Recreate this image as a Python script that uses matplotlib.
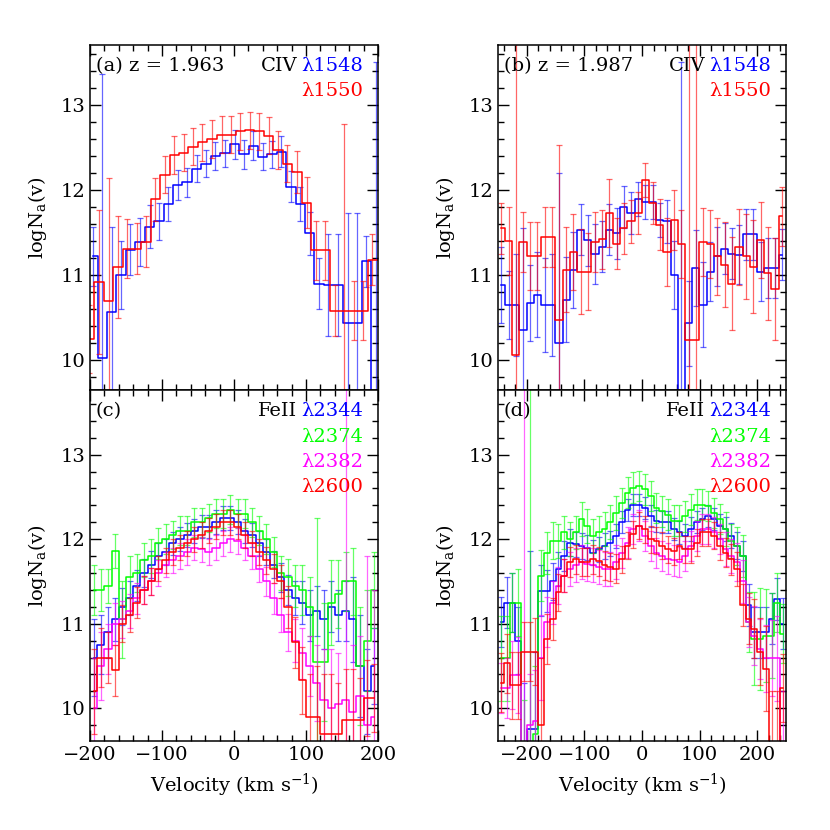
import matplotlib
matplotlib.use("Agg")
import matplotlib.pyplot as plt
from matplotlib.ticker import MultipleLocator

plt.rcParams['font.family'] = 'DejaVu Serif'
plt.rcParams['mathtext.fontset'] = 'dejavuserif'

BLUE, RED, GREEN, MAG = "#0000ff", "#ff0000", "#00ff00", "#ff00ff"

# ---- panel (a): CIV z = 1.963 ----
va_blue = [-196, -183, -170, -157, -144, -130, -117, -104, -91, -78, -65, -52, -39, -26, -13,
           1, 14, 27, 40, 53, 66, 79, 92, 105, 118, 131, 144, 158, 171, 184, 197]
na_blue = [11.22, 10.02, 10.56, 11.00, 11.30, 11.39, 11.57, 11.63, 11.84, 12.06, 12.09, 12.25, 12.31, 12.40, 12.43,
           12.54, 12.42, 12.52, 12.39, 12.42, 12.45, 12.04, 11.84, 11.49, 10.90, 10.88, 10.88, 10.43, 10.43, 11.16, 9.0]
ea_blue = [0.35, 3.35, 1.0, 0.4, 0.3, 0.28, 0.25, 0.22, 0.2, 0.18, 0.17, 0.16, 0.16, 0.16, 0.16,
           0.17, 0.17, 0.17, 0.16, 0.16, 0.18, 0.18, 0.2, 0.25, 0.3, 0.6, 0.6, 1.3, 1.3, 0.3, 4.5]

va_red = [-201, -187, -174, -161, -148, -135, -122, -109, -96, -83, -70, -57, -44, -30, -17, -4,
          9, 22, 35, 48, 61, 74, 88, 101, 114, 127, 140, 153, 166, 179, 192, 205]
na_red = [10.25, 10.92, 10.69, 11.10, 11.31, 11.31, 11.39, 11.89, 12.18, 12.41, 12.44, 12.51, 12.56, 12.60, 12.65, 12.65,
          12.69, 12.70, 12.69, 12.64, 12.47, 12.31, 12.21, 11.85, 11.29, 11.29, 10.58, 10.58, 10.58, 10.58, 11.18, 11.18]
ea_red = [0.4, 0.85, 1.45, 0.6, 0.35, 0.3, 0.3, 0.25, 0.22, 0.22, 0.22, 0.22, 0.22, 0.22, 0.22, 0.22,
          0.22, 0.22, 0.22, 0.22, 0.22, 0.22, 0.25, 0.3, 0.35, 0.35, 0.3, 2.2, 0.35, 0.35, 0.3, 0.3]

# ---- panel (b): CIV z = 1.987 ----
vb = [-244, -231.5, -219, -206.5, -194, -181.5, -169, -156.5, -144, -131.5, -119, -106.5, -94, -81.5, -69,
      -56.5, -44, -31.5, -19, -6.5, 6, 18.5, 31, 43.5, 56, 68.5, 81, 93.5, 106, 118.5, 131, 143.5, 156,
      168.5, 181, 193.5, 206, 218.5, 231, 243.5]
nb_blue = [10.88, 10.65, 10.65, 10.35, 10.67, 10.77, 10.65, 10.65, 10.20, 10.71, 11.06, 11.53, 11.41, 11.25, 11.33,
           11.53, 11.49, 11.80, 11.73, 11.90, 11.86, 11.86, 11.65, 11.63, 11.00, 9.0, 10.43, 11.08, 10.65, 11.04,
           11.22, 11.31, 11.25, 11.24, 11.48, 11.48, 11.04, 11.08, 11.08, 11.24]
eb_blue = [0.45, 0.4, 0.6, 1.2, 0.45, 0.5, 0.55, 0.6, 2.0, 0.5, 0.45, 0.3, 0.3, 0.35, 0.3, 0.3, 0.3, 0.25, 0.25, 0.2,
           0.2, 0.2, 0.2, 0.25, 0.4, 4.5, 0.5, 0.45, 0.5, 0.35, 0.35, 0.3, 0.3, 0.35, 0.3, 0.3, 0.35, 0.35, 0.35, 0.3]
nb_red = [11.55, 11.40, 10.06, 11.39, 11.22, 11.22, 11.45, 11.45, 10.47, 11.06, 11.27, 11.04, 11.04, 11.39, 11.42,
          11.73, 11.37, 11.55, 11.63, 11.73, 12.12, 11.85, 11.59, 11.27, 11.65, 11.37, 10.24, 10.24, 11.39, 11.37,
          11.22, 11.12, 10.90, 11.33, 11.22, 11.10, 11.41, 11.02, 10.84, 11.69]
eb_red = [0.3, 0.4, 4.0, 0.35, 0.4, 0.4, 0.35, 0.35, 2.06, 0.5, 0.45, 0.5, 0.45, 0.35, 0.35, 0.4, 0.3, 0.3, 0.25, 0.25,
          0.2, 0.25, 0.3, 0.4, 0.35, 0.4, 4.0, 4.0, 0.4, 0.4, 0.45, 0.5, 0.55, 0.45, 0.5, 0.55, 0.45, 0.55, 0.6, 0.35]

# ---- panel (c): FeII z = 1.963 ----
vc = [-195, -185, -175, -165, -155, -145, -135, -125, -115, -105, -95, -85, -75, -65, -55, -45, -35, -25, -15, -5,
      5, 15, 25, 35, 45, 55, 65, 75, 85, 95, 105, 115, 125, 135, 145, 155, 165, 175, 185, 195]
nc_blue = [10.6, 10.75, 10.9, 11.05, 11.2, 11.3, 11.45, 11.6, 11.7, 11.8, 11.85, 11.95, 12.0, 12.05, 12.1, 12.15,
           12.15, 12.2, 12.25, 12.25, 12.2, 12.1, 12.05, 11.95, 11.85, 11.7, 11.55, 11.4, 11.3, 11.25, 11.1, 11.15,
           11.05, 11.2, 11.1, 11.15, 11.05, 10.5, 10.2, 10.5]
ec_blue = [0.45, 0.35, 0.3, 0.25, 0.22, 0.2, 0.18, 0.17, 0.16, 0.15, 0.15, 0.14, 0.14, 0.14, 0.14, 0.14, 0.14, 0.14,
           0.14, 0.14, 0.14, 0.14, 0.14, 0.15, 0.15, 0.16, 0.17, 0.18, 0.2, 0.25, 0.3, 0.3, 0.35, 0.3, 0.3, 0.35,
           0.5, 0.6, 0.5, 0.45]
nc_green = [11.4, 11.4, 11.45, 11.86, 11.05, 11.55, 11.6, 11.75, 11.8, 11.95, 12.0, 12.05, 12.1, 12.1, 12.2, 12.2,
            12.25, 12.3, 12.3, 12.35, 12.3, 12.3, 12.2, 12.1, 12.0, 11.85, 11.6, 11.55, 11.45, 11.4, 11.2, 10.55,
            10.55, 11.25, 11.35, 11.5, 11.5, 10.5, 10.8, 11.4]
ec_green = [0.3, 0.25, 0.2, 0.2, 0.45, 0.25, 0.22, 0.2, 0.2, 0.18, 0.18, 0.17, 0.17, 0.17, 0.17, 0.17, 0.17, 0.17,
            0.17, 0.17, 0.17, 0.17, 0.17, 0.17, 0.18, 0.18, 0.2, 0.22, 0.25, 0.3, 0.35, 1.7, 0.7, 0.5, 0.4, 0.35,
            0.4, 0.7, 0.6, 0.45]
nc_mag = [10.0, 10.5, 10.7, 11.0, 11.05, 11.15, 11.3, 11.4, 11.5, 11.6, 11.7, 11.75, 11.8, 11.85, 11.9, 11.88,
          11.85, 11.9, 11.95, 12.0, 11.98, 11.9, 11.8, 11.65, 11.5, 11.3, 11.1, 10.9, 10.8, 10.65, 10.5, 10.3,
          10.1, 10.0, 10.05, 10.1, 9.95, 10.15, 9.8, 9.9]
ec_mag = [0.6, 0.4, 0.3, 0.25, 0.22, 0.2, 0.18, 0.17, 0.16, 0.15, 0.15, 0.15, 0.15, 0.15, 0.15, 0.15, 0.15, 0.15,
          0.15, 0.15, 0.15, 0.15, 0.15, 0.16, 0.17, 0.18, 0.2, 0.22, 0.25, 0.3, 0.35, 0.45, 0.6, 0.7, 0.6, 4.0,
          0.8, 0.7, 2.0, 1.5]
nc_red = [10.2, 10.6, 10.6, 10.45, 11.0, 11.1, 11.25, 11.4, 11.5, 11.65, 11.75, 11.85, 11.9, 11.95, 12.0, 12.05,
          12.1, 12.15, 12.2, 12.2, 12.15, 12.05, 11.95, 11.85, 11.75, 11.65, 11.5, 11.2, 10.78, 10.33, 9.9, 9.9,
          9.7, 9.7, 9.7, 9.86, 9.86, 9.86, 10.12, 10.12]
ec_red = [0.5, 0.35, 0.3, 0.3, 0.22, 0.2, 0.18, 0.17, 0.16, 0.15, 0.15, 0.15, 0.15, 0.15, 0.15, 0.15, 0.15, 0.15,
          0.15, 0.15, 0.15, 0.15, 0.15, 0.15, 0.16, 0.17, 0.2, 0.25, 0.3, 0.4, 0.5, 0.6, 0.7, 0.7, 0.6, 0.6, 0.6,
          0.5, 0.45, 0.4]

# ---- panel (d): FeII z = 1.987 ----
vd = [-245, -235, -225, -215, -205, -195, -185, -175, -165, -155, -145, -135, -125, -115, -105, -95, -85, -75,
      -65, -55, -45, -35, -25, -15, -5, 5, 15, 25, 35, 45, 55, 65, 75, 85, 95, 105, 115, 125, 135, 145, 155,
      165, 175, 185, 195, 205, 215, 225, 235, 245]
nd_blue = [11.02, 11.25, 11.25, 10.8, 9.5, 9.76, 9.76, 11.39, 11.39, 11.5, 11.65, 11.8, 11.96, 11.94, 11.92, 11.9,
           11.84, 11.88, 11.92, 11.95, 12.04, 12.2, 12.35, 12.41, 12.41, 12.37, 12.27, 12.22, 12.2, 12.2, 12.12,
           12.08, 12.04, 12.12, 12.2, 12.24, 12.27, 12.24, 12.16, 12.12, 12.04, 11.92, 11.8, 11.22, 10.9, 10.9,
           10.9, 11.06, 11.29, 11.0]
ed_blue = [0.3, 0.3, 0.35, 0.4, 0.8, 2.1, 0.9, 0.3, 0.25, 0.22, 0.2, 0.18, 0.16, 0.15, 0.15, 0.15, 0.15, 0.15,
           0.15, 0.15, 0.14, 0.13, 0.13, 0.13, 0.13, 0.13, 0.13, 0.13, 0.13, 0.13, 0.13, 0.14, 0.14, 0.14, 0.13,
           0.13, 0.13, 0.13, 0.14, 0.14, 0.15, 0.16, 0.18, 0.25, 0.3, 0.3, 0.3, 0.3, 0.25, 0.3]
nd_green = [10.59, 10.59, 11.25, 11.25, 9.2, 9.4, 9.7, 11.57, 11.84, 11.98, 11.98, 12.08, 12.0, 12.08, 12.24,
            12.16, 12.04, 12.08, 12.12, 12.2, 12.31, 12.43, 12.55, 12.61, 12.63, 12.59, 12.51, 12.37, 12.33, 12.29,
            12.22, 12.22, 12.27, 12.35, 12.41, 12.41, 12.39, 12.31, 12.24, 12.12, 11.98, 11.92, 11.8, 11.02, 10.82,
            10.82, 10.86, 10.86, 11.25, 10.88]
ed_green = [0.5, 0.5, 0.35, 0.4, 0.9, 4.5, 0.8, 0.3, 0.25, 0.22, 0.2, 0.2, 0.2, 0.2, 0.2, 0.2, 0.2, 0.2, 0.2, 0.2,
            0.2, 0.18, 0.18, 0.18, 0.18, 0.18, 0.18, 0.18, 0.18, 0.18, 0.18, 0.18, 0.18, 0.18, 0.18, 0.18, 0.18,
            0.18, 0.18, 0.2, 0.2, 0.22, 0.25, 0.35, 0.55, 0.6, 0.55, 0.5, 0.35, 0.35]
nd_mag = [10.24, 10.24, 10.39, 10.39, 9.3, 9.8, 9.85, 10.6, 11.02, 11.25, 11.45, 11.57, 11.65, 11.69, 11.73,
          11.71, 11.69, 11.67, 11.65, 11.65, 11.73, 11.84, 11.96, 12.12, 12.16, 12.04, 11.92, 11.84, 11.8, 11.77,
          11.75, 11.73, 11.8, 11.92, 12.04, 12.12, 12.12, 12.08, 12.0, 11.88, 11.8, 11.73, 11.5, 11.02, 10.86,
          10.7, 10.59, 10.59, 10.59, 9.6]
ed_mag = [0.3, 0.35, 0.4, 0.45, 4.5, 0.6, 0.6, 0.5, 0.3, 0.25, 0.22, 0.2, 0.2, 0.2, 0.2, 0.2, 0.2, 0.2, 0.2, 0.2,
          0.2, 0.18, 0.18, 0.18, 0.18, 0.18, 0.18, 0.18, 0.18, 0.18, 0.18, 0.18, 0.18, 0.18, 0.18, 0.18, 0.18,
          0.18, 0.18, 0.2, 0.2, 0.22, 0.25, 0.3, 0.35, 0.35, 0.4, 0.45, 0.5, 0.6]
nd_red = [10.3, 10.53, 10.27, 10.27, 10.67, 10.67, 10.67, 9.8, 10.82, 11.06, 11.37, 11.57, 11.73, 11.76, 11.73,
          11.73, 11.76, 11.74, 11.69, 11.67, 11.65, 11.76, 11.92, 12.06, 12.16, 12.12, 12.0, 11.98, 11.92, 11.88,
          11.86, 11.92, 11.88, 11.88, 11.96, 12.08, 12.08, 12.04, 11.92, 11.84, 11.76, 11.65, 11.22, 11.06, 10.94,
          10.67, 10.47, 9.6, 9.6, 10.24]
ed_red = [0.35, 0.35, 0.4, 0.4, 0.35, 0.35, 0.4, 0.8, 0.3, 0.25, 0.22, 0.2, 0.18, 0.17, 0.17, 0.17, 0.17, 0.17,
          0.17, 0.17, 0.17, 0.16, 0.16, 0.16, 0.16, 0.16, 0.16, 0.16, 0.16, 0.16, 0.16, 0.16, 0.16, 0.16, 0.16,
          0.16, 0.16, 0.16, 0.17, 0.17, 0.18, 0.2, 0.25, 0.3, 0.35, 0.4, 0.5, 0.6, 0.6, 0.4]


def draw(ax, v, n, e, color):
    ax.errorbar(v, n, yerr=e, fmt='none', ecolor=color, elinewidth=0.9, capsize=2.5,
                capthick=0.9, alpha=0.6)
    ax.step(v, n, where='mid', color=color, lw=1.1)


def style(ax, xlim, ylim, xmajor, bottom):
    ax.set_xlim(xlim)
    ax.set_ylim(ylim)
    ax.xaxis.set_major_locator(MultipleLocator(xmajor))
    ax.xaxis.set_minor_locator(MultipleLocator(20))
    ax.yaxis.set_major_locator(MultipleLocator(1))
    ax.yaxis.set_minor_locator(MultipleLocator(0.2))
    ax.tick_params(which='both', direction='in', top=True, right=True, labelsize=14)
    ax.tick_params(which='major', length=8, width=1)
    ax.tick_params(which='minor', length=4, width=1)
    for s in ax.spines.values():
        s.set_linewidth(1.1)
    ax.set_ylabel(r"logN$_\mathrm{a}$(v)", fontsize=14, labelpad=8)
    if bottom:
        ax.set_xlabel(r"Velocity (km s$^{-1}$)", fontsize=14, labelpad=6)
    else:
        ax.tick_params(labelbottom=False)


def labels(ax, title, ion, lines):
    ax.text(0.02, 0.965, title, transform=ax.transAxes, fontsize=14, va='top', ha='left')
    ax.text(0.72, 0.965, ion, transform=ax.transAxes, fontsize=14, va='top', ha='right')
    for i, (txt, col) in enumerate(lines):
        ax.text(0.948, 0.965 - i * 0.072, txt, transform=ax.transAxes, fontsize=14,
                va='top', ha='right', color=col)


fig = plt.figure(figsize=(8.3, 8.3), dpi=100)
ax_a = fig.add_axes([0.1084, 0.5301, 0.347, 0.4157])
ax_b = fig.add_axes([0.6, 0.5301, 0.347, 0.4157])
ax_c = fig.add_axes([0.1084, 0.1072, 0.347, 0.4229])
ax_d = fig.add_axes([0.6, 0.1072, 0.347, 0.4229])

draw(ax_a, va_blue, na_blue, ea_blue, BLUE)
draw(ax_a, va_red, na_red, ea_red, RED)
style(ax_a, (-200, 200), (9.647, 13.706), 100, False)
labels(ax_a, "(a) z = 1.963", "CIV", [("λ1548", BLUE), ("λ1550", RED)])

draw(ax_b, vb, nb_blue, eb_blue, BLUE)
draw(ax_b, vb, nb_red, eb_red, RED)
style(ax_b, (-250, 250), (9.647, 13.706), 100, False)
labels(ax_b, "(b) z = 1.987", "CIV", [("λ1548", BLUE), ("λ1550", RED)])

fe_lines = [("λ2344", BLUE), ("λ2374", GREEN), ("λ2382", MAG), ("λ2600", RED)]

draw(ax_c, vc, nc_blue, ec_blue, BLUE)
draw(ax_c, vc, nc_green, ec_green, GREEN)
draw(ax_c, vc, nc_mag, ec_mag, MAG)
draw(ax_c, vc, nc_red, ec_red, RED)
style(ax_c, (-200, 200), (9.612, 13.765), 100, True)
labels(ax_c, "(c)", "FeII", fe_lines)

draw(ax_d, vd, nd_blue, ed_blue, BLUE)
draw(ax_d, vd, nd_green, ed_green, GREEN)
draw(ax_d, vd, nd_mag, ed_mag, MAG)
draw(ax_d, vd, nd_red, ed_red, RED)
style(ax_d, (-250, 250), (9.612, 13.765), 100, True)
labels(ax_d, "(d)", "FeII", fe_lines)

fig.savefig("out.png", dpi=100)
